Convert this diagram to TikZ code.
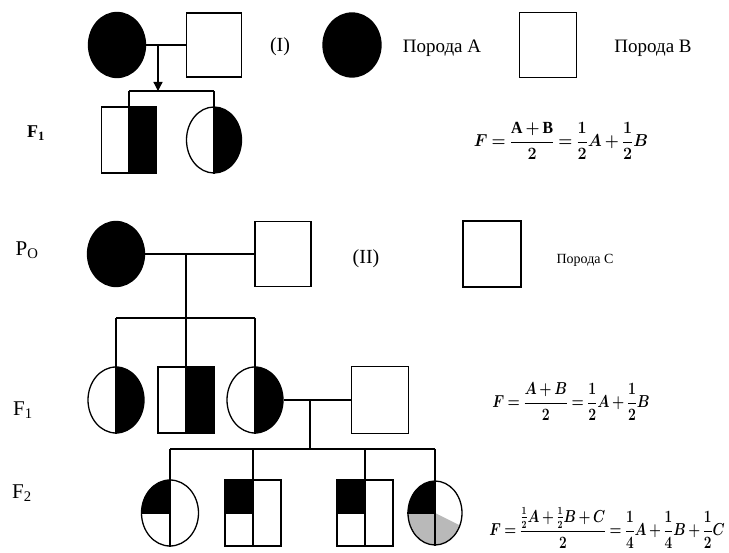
\documentclass[tikz,border=0pt]{standalone}
\usepackage{amsmath}
\usepackage{graphicx}
\usepackage{fontspec}
\setmainfont{Liberation Serif}
\usetikzlibrary{shapes.geometric,arrows.meta}
\newcommand{\tightmu}{\medmuskip=3mu\relax\thickmuskip=4mu\relax}
\begin{document}
\begin{tikzpicture}[x=1pt,y=-1pt,
  ln/.style={line width=1.3pt},
  fem/.style={ellipse,draw,line width=1.3pt,inner sep=0pt,minimum width=57pt,minimum height=65pt},
  mal/.style={rectangle,draw,line width=1.3pt,inner sep=0pt,minimum width=56pt,minimum height=65pt},
  full/.style={fill=black},
  halfR/.style={path picture={\fill[black] (path picture bounding box.north) rectangle (path picture bounding box.south east);}},
  quadTL/.style={path picture={\fill[black] (path picture bounding box.north west) rectangle (path picture bounding box.center);}},
  wedgeC/.style={path picture={
     \fill[gray!55] (path picture bounding box.center) -- (path picture bounding box.west) -- (path picture bounding box.south west) -- (path picture bounding box.south east) -- ([shift={(60,30)}]path picture bounding box.center) -- cycle;
     \fill[black] (path picture bounding box.north west) rectangle (path picture bounding box.center);}},
  lbl/.style={font=\fontsize{19}{21}\selectfont},
  gen/.style={font=\fontsize{21}{24}\selectfont}
]
\useasboundingbox (0,0) rectangle (729,553);

% ---------- Part I ----------
\node[fem,full] (a1) at (117,45) {};
\node[mal,minimum width=55pt,minimum height=64pt] (b1) at (214,45) {};
\coordinate (m1) at (158,45);
\coordinate (s1) at (158,91);
\coordinate (s1l) at (129,91);
\coordinate (s1r) at (214,91);
\node[mal,halfR,minimum width=55pt,minimum height=66pt] (c1) at (129,140) {};
\node[fem,halfR,minimum width=55pt,minimum height=66pt] (c2) at (214,140) {};
\draw[ln] (a1.east) -- (b1.west);
\draw[ln,-{Triangle[width=9pt,length=9pt]}] (m1) -- (s1);
\draw[ln] (s1l) -- (s1r);
\draw[ln] (s1l) -- (c1.north);
\draw[ln] (s1r) -- (c2.north);
\draw[ln] (c1.north) -- (c1.south);
\draw[ln] (c2.north) -- (c2.south);

\node[lbl,font=\fontsize{20}{22}\selectfont] (t1) at (280,47) {(I)};
\node[font=\fontsize{18}{20}\selectfont\bfseries] (f1I) at (36,133) {F\textsubscript{1}};

% legend
\node[fem,full,minimum width=58pt,minimum height=64pt] (la) at (352,45) {};
\node[lbl] (ta) at (442,48) {Порода A};
\node[mal,minimum width=57pt,minimum height=65pt] (lb) at (548,45) {};
\node[lbl] (tb) at (653,48) {Порода B};

\node[font=\fontsize{17}{19}\selectfont\boldmath] (formI) at (561,141) {\scalebox{0.93}[1]{$\tightmu\displaystyle F=\frac{\mathrm{A+B}}{2}=\frac{1}{2}A+\frac{1}{2}B$}};

% ---------- Part II ----------
\node[gen] (p0) at (27,250) {P\textsubscript{O}};
\node[fem,full] (p1) at (116,254) {};
\node[mal] (p2) at (283,254) {};
\coordinate (m2) at (186,254);
\coordinate (s2) at (186,318);
\coordinate (s2l) at (116,318);
\coordinate (s2r) at (255,318);
\draw[ln] (p1.east) -- (p2.west);
\draw[ln] (m2) -- (s2);
\draw[ln] (s2l) -- (s2r);

\node[lbl,font=\fontsize{20}{22}\selectfont] (t2) at (366,259) {(II)};
\node[mal,minimum width=58pt,minimum height=66pt] (lc) at (492,254) {};
\node[font=\fontsize{14}{16}\selectfont] (tc) at (585,260) {Порода C};

\node[gen] (f1II) at (23,410) {F\textsubscript{1}};
\node[fem,halfR,minimum width=56pt,minimum height=66pt] (f1a) at (116,400) {};
\node[mal,halfR,minimum width=56pt,minimum height=66pt] (f1b) at (186,400) {};
\node[fem,halfR,minimum width=56pt,minimum height=66pt] (f1c) at (255,400) {};
\node[mal,minimum width=57pt,minimum height=67pt] (f1d) at (380,400) {};
\draw[ln] (s2l) -- (f1a.north);
\draw[ln] (s2) -- (f1b.north);
\draw[ln] (s2r) -- (f1c.north);
\foreach \n in {f1a,f1b,f1c} \draw[ln] (\n.north) -- (\n.south);
\coordinate (m3) at (310,400);
\coordinate (s3) at (310,449);
\coordinate (s3a) at (170,449);
\coordinate (s3b) at (253,449);
\coordinate (s3c) at (365,449);
\coordinate (s3d) at (435,449);
\draw[ln] (f1c.east) -- (f1d.west);
\draw[ln] (m3) -- (s3);
\draw[ln] (s3a) -- (s3d);

\node[font=\fontsize{16}{18}\selectfont\boldmath] (formII) at (571,402) {\scalebox{0.81}[1]{$\tightmu\displaystyle F=\frac{A+B}{2}=\frac{1}{2}A+\frac{1}{2}B$}};

\node[gen] (f2) at (22,493) {F\textsubscript{2}};
\node[fem,quadTL,minimum width=57pt,minimum height=66pt] (g1) at (170,513) {};
\node[mal,quadTL,minimum width=56pt,minimum height=66pt] (g2) at (253,513) {};
\node[mal,quadTL,minimum width=56pt,minimum height=66pt] (g3) at (365,513) {};
\node[fem,wedgeC,minimum width=54pt,minimum height=64pt] (g4) at (435,513) {};
\draw[ln] (s3a) -- (g1.south);
\draw[ln] (s3b) -- (g2.south);
\draw[ln] (s3c) -- (g3.south);
\draw[ln] (s3d) -- (g4.south);
\foreach \n in {g1,g2,g3,g4} \draw[ln] (\n.west) -- (\n.center);

\node[font=\fontsize{16}{18}\selectfont\boldmath] (formIII) at (607,528) {\scalebox{0.79}[1]{$\tightmu\displaystyle F=\frac{\tfrac{1}{2}A+\tfrac{1}{2}B+C}{2}=\frac{1}{4}A+\frac{1}{4}B+\frac{1}{2}C$}};
\end{tikzpicture}
\end{document}
